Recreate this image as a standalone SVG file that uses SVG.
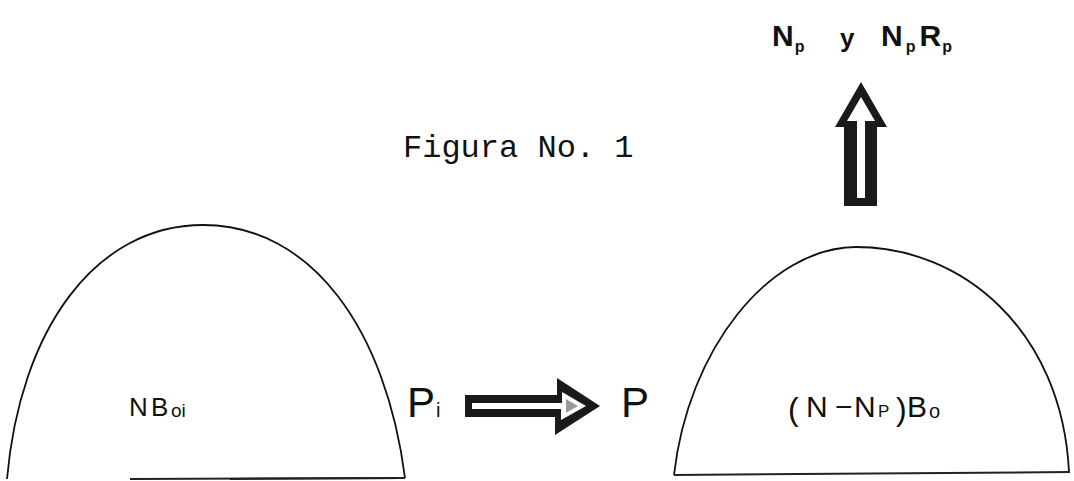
<svg xmlns="http://www.w3.org/2000/svg" width="1074" height="481" viewBox="0 0 1074 481">
<style>
.dome{fill:none;stroke:#111;stroke-width:1.8;stroke-linejoin:round}
.base{stroke:#222;stroke-width:2}
.lbl{font-family:"Liberation Sans",Arial,sans-serif;fill:#111}
.bold{font-weight:bold}
.mono{font-family:"Liberation Mono","Courier New",monospace;fill:#111}
.arrow{fill:#1a1a1a}
.slot{fill:#fff}
.grain{fill:#9a9a9a}
</style>
<rect width="1074" height="481" fill="#fff"/>
<g id="title">
<text class="mono" x="403" y="157" font-size="32">Figura No. 1</text>
</g>
<g id="result">
<text class="lbl bold" x="772" y="46" font-size="30">N<tspan font-size="16" dy="6" dx="1">p</tspan></text>
<text class="lbl bold" x="840" y="47" font-size="26">y</text>
<text class="lbl bold" x="881" y="46" font-size="30">N<tspan font-size="16" dy="6" dx="3">p</tspan><tspan font-size="30" dy="-6" dx="4">R</tspan><tspan font-size="16" dy="6" dx="1">p</tspan></text>
</g>
<g id="left-dome">
<path class="dome" d="M 7,479 C 20,330 95,225 203,225 C 312,225 386,330 405,478"/>
<line class="base" x1="130" y1="479" x2="405" y2="478" stroke="#777"/>
<line class="base" x1="230" y1="479" x2="405" y2="478"/>
<text class="lbl" x="129" y="416" font-size="26">N<tspan x="151">B</tspan><tspan font-size="19" dy="1" x="171">oi</tspan></text>
</g>
<g id="right-dome">
<path class="dome" d="M 674,475 C 688,350 768,248 856,247 C 962,247 1062,330 1069,472"/>
<line class="base" x1="674" y1="475" x2="1070" y2="472"/>
<text class="lbl" y="417" font-size="30"><tspan x="788" font-size="32" dy="3">(</tspan><tspan x="806" dy="-3">N</tspan><tspan x="835">−</tspan><tspan x="854">N</tspan><tspan x="878" font-size="17">P</tspan><tspan x="896" font-size="32" dy="3">)</tspan><tspan x="907" dy="-3">B</tspan><tspan x="929" font-size="20" dy="1">o</tspan></text>
</g>
<g id="left-labels">
<text class="lbl" x="407" y="417" font-size="42">P<tspan font-size="20" dy="0" dx="1">i</tspan></text>
<text class="lbl" x="621" y="417" font-size="42">P</text>
</g>
<g id="connectors">
<path class="arrow" d="M 465,395 L 557,395 L 557,378 L 600,406 L 555,435 L 555,417 L 465,417 Z"/>
<path class="slot" d="M 472,403 L 562,403 L 562,392 L 586,406 L 561,420 L 561,409 L 472,409 Z"/>
<path class="grain" d="M 566,399 L 578,406 L 566,413 Z"/>
<path class="arrow" d="M 861,82 L 887,127 L 877,127 L 877,206 L 844,206 L 844,127 L 835,127 Z"/>
<path class="slot" d="M 861,97 L 875,121 L 865,121 L 865,198 L 857,198 L 857,121 L 847,121 Z"/>
</g>
</svg>
